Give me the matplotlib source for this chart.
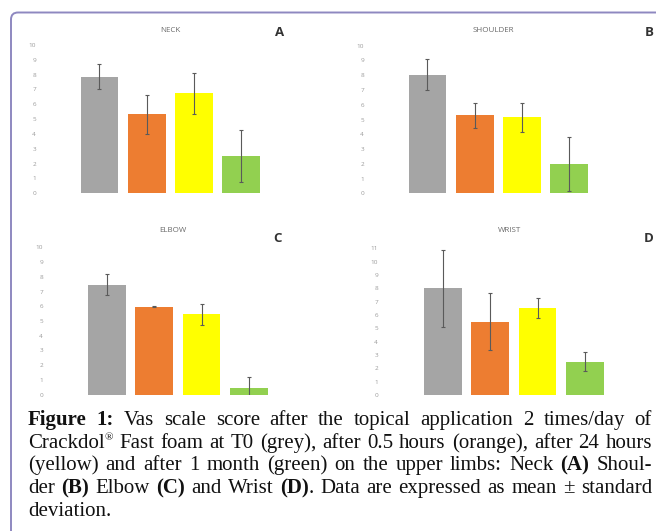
import matplotlib
matplotlib.use("Agg")
import matplotlib.pyplot as plt
from matplotlib.patches import FancyBboxPatch, Rectangle
from matplotlib.transforms import IdentityTransform

W, H = 656, 531

groups = ["T0", "0.5 h", "24 h", "1 month"]
bar_colors = ["#a5a5a5", "#ed7d31", "#ffff00", "#92d050"]

neck_mean = [7.85, 5.33, 6.74, 2.51]
neck_sd = [0.85, 1.30, 1.40, 1.78]
shoulder_mean = [8.04, 5.28, 5.15, 1.98]
shoulder_sd = [1.07, 0.85, 0.97, 1.83]
elbow_mean = [7.46, 5.97, 5.45, 0.45]
elbow_sd = [0.72, 0.02, 0.72, 0.73]
wrist_mean = [8.0, 5.5, 6.52, 2.5]
wrist_sd = [2.87, 2.15, 0.72, 0.72]

titles = ["NECK", "SHOULDER", "ELBOW", "WRIST"]
letters = ["A", "B", "C", "D"]

fig = plt.figure(figsize=(W / 100, H / 100), dpi=100)
fig.patch.set_facecolor("white")


def px_axes(left, top, width, height):
    return fig.add_axes([left / W, 1 - (top + height) / H, width / W, height / H])


def panel(means, sds, left, y0, ppu, ymax, label_right, title, tx, ty, letter, lx, ly):
    width = 4 * 47.3
    height = ymax * ppu
    ax = px_axes(left, y0 - height, width, height)
    x = range(len(means))
    ax.bar(x, means, width=0.8, color=bar_colors, zorder=2)
    ax.errorbar(x, means, yerr=sds, fmt="none", ecolor="#5a5a5a", elinewidth=0.8,
                capsize=1.5, capthick=0.8, zorder=3)
    ax.set_xlim(-0.5, 3.5)
    ax.set_ylim(0, ymax)
    ax.set_yticks(range(0, ymax + 1))
    ax.set_xticks([])
    for s in ax.spines.values():
        s.set_visible(False)
    pad = (left - label_right) * 72 / 100
    ax.tick_params(axis="y", length=0, pad=pad, labelsize=4.6, labelcolor="#9a9a9a")
    for lab in ax.get_yticklabels():
        lab.set_family("Open Sans")
    fig.text(tx / W, 1 - ty / H, title, ha="center", va="center", fontsize=5.8,
             color="#6a6a6a", family="Open Sans")
    fig.text(lx / W, 1 - ly / H, letter, ha="center", va="center", fontsize=9.5,
             color="#333333", family="Open Sans", fontweight="bold")
    return ax


panel(neck_mean, neck_sd, 75.8, 193.3, 14.83, 10, 36, titles[0], 170, 30, letters[0], 280, 33)
panel(shoulder_mean, shoulder_sd, 403.8, 193.3, 14.76, 10, 364, titles[1], 493, 30, letters[1], 649, 33)
panel(elbow_mean, elbow_sd, 83.3, 394.7, 14.74, 10, 43, titles[2], 173, 231, letters[2], 278, 238)
panel(wrist_mean, wrist_sd, 419.3, 395.0, 13.33, 11, 378, titles[3], 509, 231, letters[3], 649, 238)

# white caption area covers the bottom of the lower charts
cover = Rectangle((0, 0), W, H - 397, facecolor="white", edgecolor="none",
                  transform=IdentityTransform(), zorder=10)
fig.add_artist(cover)

# rounded frame (only top-left corner visible)
frame = FancyBboxPatch((11, -50), W + 50, H - 12.5 + 50,
                       boxstyle="round,pad=0,rounding_size=7",
                       facecolor="none", edgecolor="#8e88c0", linewidth=1.4,
                       transform=IdentityTransform(), zorder=11)
fig.add_artist(frame)

# caption, justified
caption = [
    [[("Figure", 1, 0)], [("1:", 1, 0)], [("Vas", 0, 0)], [("scale", 0, 0)], [("score", 0, 0)],
     [("after", 0, 0)], [("the", 0, 0)], [("topical", 0, 0)], [("application", 0, 0)],
     [("2", 0, 0)], [("times/day", 0, 0)], [("of", 0, 0)]],
    [[("Crackdol", 0, 0), ("®", 0, 1)], [("Fast", 0, 0)], [("foam", 0, 0)], [("at", 0, 0)],
     [("T0", 0, 0)], [("(grey),", 0, 0)], [("after", 0, 0)], [("0.5", 0, 0)], [("hours", 0, 0)],
     [("(orange),", 0, 0)], [("after", 0, 0)], [("24", 0, 0)], [("hours", 0, 0)]],
    [[("(yellow)", 0, 0)], [("and", 0, 0)], [("after", 0, 0)], [("1", 0, 0)], [("month", 0, 0)],
     [("(green)", 0, 0)], [("on", 0, 0)], [("the", 0, 0)], [("upper", 0, 0)], [("limbs:", 0, 0)],
     [("Neck", 0, 0)], [("(A)", 1, 0)], [("Shoul-", 0, 0)]],
    [[("der", 0, 0)], [("(B)", 1, 0)], [("Elbow", 0, 0)], [("(C)", 1, 0)], [("and", 0, 0)],
     [("Wrist", 0, 0)], [("(D)", 1, 0), (".", 0, 0)], [("Data", 0, 0)], [("are", 0, 0)],
     [("expressed", 0, 0)], [("as", 0, 0)], [("mean", 0, 0)], [("±", 0, 0)], [("standard", 0, 0)]],
    [[("deviation.", 0, 0)]],
]
baselines = [425, 447.7, 470.3, 493, 515.5]
x_start, x_end = 28, 652
fs = 15

renderer = fig.canvas.get_renderer()
for li, words in enumerate(caption):
    y = baselines[li]
    placed = []
    widths = []
    for word in words:
        pieces = []
        wsum = 0
        for s, bold, sup in word:
            t = fig.text(0, 1 - (y - (7 if sup else 0)) / H, s, fontsize=8 if sup else fs,
                         family="Liberation Serif", fontweight="bold" if bold else "normal",
                         ha="left", va="baseline", color="#111111", zorder=12)
            w = t.get_window_extent(renderer).width
            pieces.append((t, wsum))
            wsum += w
        placed.append(pieces)
        widths.append(wsum)
    total = sum(widths)
    if li < len(caption) - 1 and len(words) > 1:
        gap = (x_end - x_start - total) / (len(words) - 1)
    else:
        gap = 4.5
    x = x_start
    for pieces, w in zip(placed, widths):
        for t, off in pieces:
            t.set_x((x + off) / W)
        x += w + gap

fig.savefig("out.png", dpi=100)
